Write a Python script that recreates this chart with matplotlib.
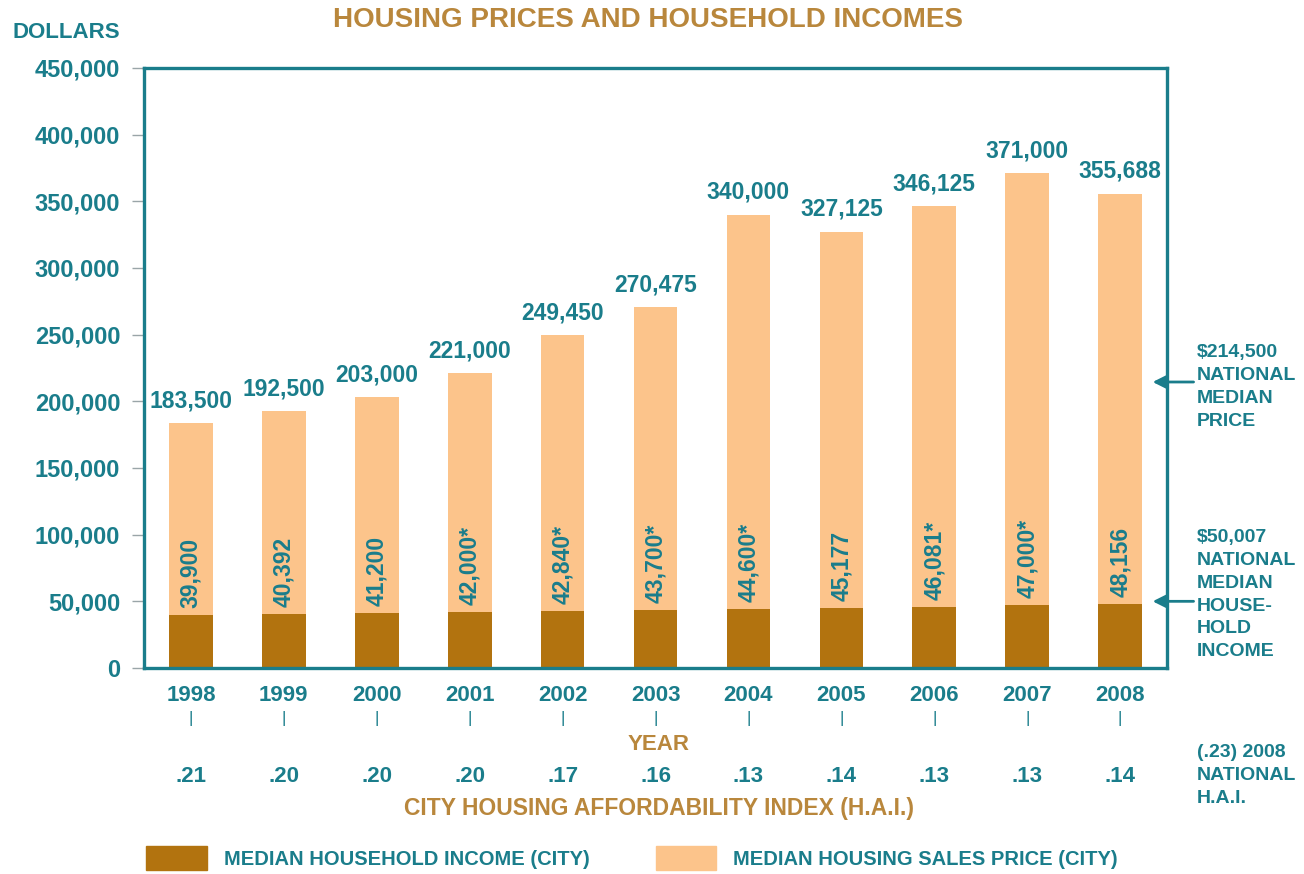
import numpy as np
import matplotlib.pyplot as plt
import matplotlib.transforms as mtransforms
from matplotlib.patches import Patch

years = ['1998', '1999', '2000', '2001', '2002', '2003', '2004', '2005', '2006', '2007', '2008']
price = [183500, 192500, 203000, 221000, 249450, 270475, 340000, 327125, 346125, 371000, 355688]
income = [39900, 40392, 41200, 42000, 42840, 43700, 44600, 45177, 46081, 47000, 48156]
income_labels = ['39,900', '40,392', '41,200', '42,000*', '42,840*', '43,700*',
                 '44,600*', '45,177', '46,081*', '47,000*', '48,156']
hai = ['.21', '.20', '.20', '.20', '.17', '.16', '.13', '.14', '.13', '.13', '.14']
national_price = 214500
national_income = 50007

teal = '#1a7d8b'
gold = '#b9873c'
dark = '#b2730f'
light = '#fcc48b'

plt.rcParams['font.family'] = ['Liberation Sans', 'DejaVu Sans']
plt.rcParams['font.weight'] = 'bold'

fig = plt.figure(figsize=(13.04, 8.74), dpi=100)
ax = fig.add_axes([0.1104, 0.2357, 0.7846, 0.6865])

x = np.arange(len(years))
w = 0.47
ax.bar(x, price, w, color=light, zorder=1)
ax.bar(x, income, w, color=dark, zorder=2)

for xi, p in zip(x, price):
    ax.annotate(f'{p:,}', (xi, p), xytext=(0, 8), textcoords='offset points',
                ha='center', va='bottom', color=teal, fontsize=16.5, fontweight='bold')
for xi, v, lab in zip(x, income, income_labels):
    ax.annotate(lab, (xi, v), xytext=(0, 5), textcoords='offset points',
                ha='center', va='bottom', rotation=90, color=teal, fontsize=16.5,
                fontweight='bold')

ax.set_xlim(-0.505, 10.505)
ax.set_ylim(0, 450000)
ax.set_yticks(np.arange(0, 450001, 50000))
ax.set_yticklabels([f'{v:,}' for v in range(0, 450001, 50000)], fontsize=17,
                   color=teal, fontweight='bold')
ax.tick_params(axis='y', length=9, width=1, color='#9aa5a8', pad=8)
ax.set_xticks(x)
ax.set_xticklabels(years, fontsize=16, color=teal, fontweight='bold')
ax.tick_params(axis='x', length=0, pad=12)
for s in ax.spines.values():
    s.set_color(teal)
    s.set_linewidth(2.4)

# small markers below years and the H.A.I. row
trans = mtransforms.blended_transform_factory(ax.transData, fig.transFigure)
for xi, h in zip(x, hai):
    ax.text(xi, 1 - 718 / 874, '|', transform=trans, ha='center', va='center',
            color=teal, fontsize=12, fontweight='normal')
    ax.text(xi, 1 - 776 / 874, h, transform=trans, ha='center', va='center',
            color=teal, fontsize=16, fontweight='bold')

fig.text(0.505, 1 - 745 / 874, 'YEAR', ha='center', va='center', color=gold,
         fontsize=16, fontweight='bold')
fig.text(0.505, 1 - 809 / 874, 'CITY HOUSING AFFORDABILITY INDEX (H.A.I.)',
         ha='center', va='center', color=gold, fontsize=16.5, fontweight='bold')
fig.text(0.497, 1 - 20 / 874, 'HOUSING PRICES AND HOUSEHOLD INCOMES', ha='center',
         va='center', color=gold, fontsize=20, fontweight='bold')
fig.text(12 / 1304, 1 - 33 / 874, 'DOLLARS', ha='left', va='center', color=teal,
         fontsize=16, fontweight='bold')

# national reference arrows on the right
for val in (national_price, national_income):
    ax.annotate('', xy=(10.32, val), xytext=(10.82, val), annotation_clip=False,
                arrowprops=dict(arrowstyle='-|>', color=teal, lw=2, mutation_scale=20),
                zorder=5)
fig.text(1197 / 1304, 1 - 344 / 874, f'${national_price:,}\nNATIONAL\nMEDIAN\nPRICE',
         ha='left', va='top', color=teal, fontsize=14, fontweight='bold', linespacing=1.45)
fig.text(1197 / 1304, 1 - 529 / 874,
         f'${national_income:,}\nNATIONAL\nMEDIAN\nHOUSE-\nHOLD\nINCOME',
         ha='left', va='top', color=teal, fontsize=14, fontweight='bold', linespacing=1.45)
fig.text(1197 / 1304, 1 - 744 / 874, '(.23) 2008\nNATIONAL\nH.A.I.',
         ha='left', va='top', color=teal, fontsize=14, fontweight='bold', linespacing=1.45)

handles = [Patch(color=dark), Patch(color=light)]
leg = fig.legend(handles, ['MEDIAN HOUSEHOLD INCOME (CITY)', 'MEDIAN HOUSING SALES PRICE (CITY)'],
                 loc='center left', bbox_to_anchor=(128 / 1304, 1 - 858 / 874), ncol=2,
                 frameon=False, handlelength=3.0, handleheight=1.5, handletextpad=0.85,
                 columnspacing=3.3, prop={'size': 14.5, 'weight': 'bold'})
for t in leg.get_texts():
    t.set_color(teal)

fig.savefig('out.png', dpi=100, facecolor='white')
